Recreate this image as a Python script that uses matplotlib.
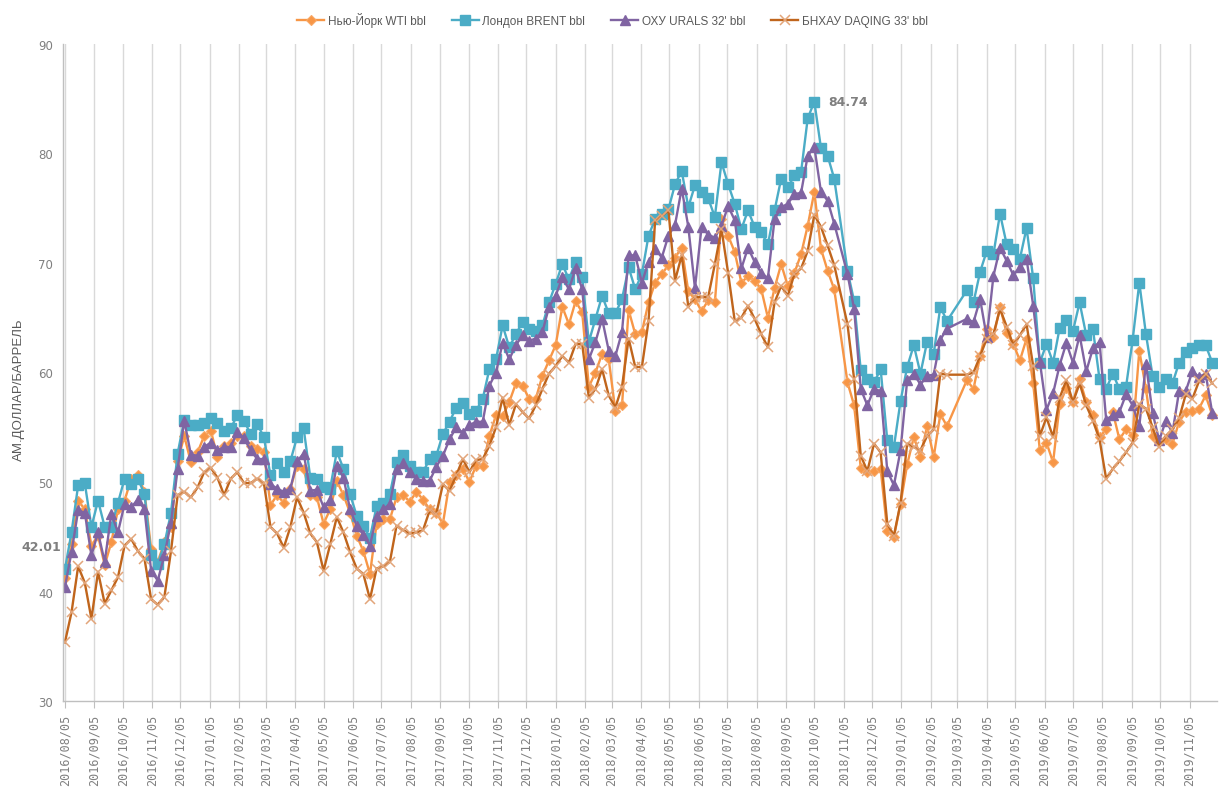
import numpy as np
import pandas as pd
import matplotlib
matplotlib.use('Agg')
import matplotlib.pyplot as plt
import matplotlib.dates as mdates

nan = np.nan
start_date = '2016-08-05'
n_weeks = 174

series_names = ['Нью-Йорк WTI bbl', 'Лондон BRENT bbl', "ОХУ URALS 32' bbl", "БНХАУ DAQING 33' bbl"]
y_label = 'АМ.ДОЛЛАР/БАРРЕЛЬ'

wti = [41.2, 44.3, 48.3, 47.5, 44.2, 45.1, 42.4, 44.5, 47.5, 48.3,
       50.3, 50.6, 49.1, 43.9, 42.7, 44.5, 45.9, 51.9, 54.2, 51.8,
       52.7, 54.2, 54.7, 52.3, 53.3, 53.6, 54.2, 54.2, 53.3, 53.0,
       52.7, 47.9, 48.8, 48.1, 49.4, 51.5, 51.2, 48.8, 48.6, 46.2,
       47.5, 50.1, 48.8, 47.2, 45.1, 43.7, 41.6, 46.2, 46.6, 46.6,
       48.6, 48.8, 48.2, 49.1, 48.4, 47.5, 47.2, 46.2, 50.0, 50.6,
       51.2, 50.0, 51.5, 51.5, 54.2, 56.1, 56.0, 57.3, 59.0, 58.8,
       57.6, 57.6, 59.7, 61.1, 62.5, 66.0, 64.4, 66.5, 65.5, 58.7,
       60.0, 61.7, 61.2, 56.5, 57.0, 65.7, 63.5, 63.7, 66.4, 68.2,
       69.0, 69.8, 70.5, 71.4, 67.4, 66.7, 65.6, 66.6, 66.4, 74.0,
       72.5, 71.0, 68.2, 68.8, 68.4, 67.6, 65.0, 67.7, 69.9, 67.9,
       69.1, 70.8, 73.4, 76.5, 71.3, 69.3, 67.6, nan, 59.1, 57.0,
       51.3, 50.9, 51.0, 51.2, 45.5, 45.0, 48.0, 51.6, 54.1, 52.3,
       55.1, 52.3, 56.2, 55.1, nan, nan, 59.3, 58.5, 61.5, 64.0,
       63.2, 66.0, 63.6, 62.6, 61.1, 63.1, 59.0, 52.9, 53.6, 51.8,
       57.1, 58.6, 57.3, 59.4, 57.3, 56.1, 54.1, 54.8, 56.4, 53.9,
       54.8, 54.3, 62.0, 58.5, 54.2, 53.7, 53.9, 53.5, 55.5, 56.4,
       56.5, 56.7, 57.9, 56.1]

brent = [42.01, 45.4, 49.7, 49.9, 45.9, 48.3, 45.9, 45.9, 48.1, 50.3,
         49.8, 50.3, 48.9, 43.3, 42.5, 44.3, 47.2, 52.6, 55.7, 55.2,
         55.2, 55.4, 55.8, 55.4, 54.7, 54.9, 56.1, 55.6, 54.4, 55.3,
         54.1, 50.6, 51.7, 50.9, 51.9, 54.1, 54.9, 50.4, 50.3, 49.5,
         49.4, 52.8, 51.2, 48.9, 46.9, 46.0, 44.9, 47.8, 48.1, 48.9,
         51.8, 52.5, 51.5, 50.9, 50.9, 52.1, 52.4, 54.4, 55.5, 56.8,
         57.2, 56.2, 56.5, 57.6, 60.3, 61.2, 64.3, 62.3, 63.5, 64.6,
         64.0, 63.8, 64.3, 66.4, 68.1, 69.9, 68.5, 70.1, 68.7, 62.8,
         64.9, 67.0, 65.4, 65.4, 66.7, 69.6, 67.6, 69.0, 72.5, 74.0,
         74.5, 74.9, 77.2, 78.4, 75.1, 77.1, 76.5, 75.9, 74.2, 79.2,
         77.2, 75.4, 73.1, 74.8, 73.3, 72.8, 71.7, 74.8, 77.7, 76.9,
         78.0, 78.3, 83.2, 84.74, 80.5, 79.8, 77.7, nan, 69.3, 66.5,
         60.2, 59.4, 59.1, 60.3, 53.8, 53.2, 57.4, 60.5, 62.5, 59.9,
         62.8, 61.7, 66.0, 64.7, nan, nan, 67.5, 66.4, 69.2, 71.1,
         70.8, 74.5, 71.7, 71.3, 70.4, 73.2, 68.6, 60.9, 62.6, 60.9,
         64.1, 64.8, 63.8, 66.4, 63.4, 64.0, 59.4, 58.5, 59.9, 58.5,
         58.7, 63.0, 68.2, 63.5, 59.7, 58.7, 59.4, 59.0, 60.9, 61.9,
         62.2, 62.5, 62.5, 60.9]

urals = [40.4, 43.6, 47.4, 47.2, 43.3, 45.4, 42.7, 47.1, 45.4, 48.0,
         47.7, 48.4, 47.5, 41.9, 41.0, 43.3, 46.3, 51.2, 55.6, 52.5,
         52.4, 53.2, 53.6, 52.9, 53.2, 53.2, 54.6, 54.0, 52.9, 52.1,
         52.1, 49.8, 49.4, 49.1, 49.4, 51.9, 52.6, 49.2, 49.3, 47.7,
         48.4, 51.5, 50.4, 47.5, 46.0, 45.2, 44.2, 46.9, 47.5, 48.0,
         51.2, 51.7, 50.9, 50.3, 50.1, 50.1, 51.4, 52.4, 53.9, 55.0,
         54.5, 55.2, 55.5, 55.5, 58.8, 60.0, 62.7, 61.2, 62.5, 63.4,
         62.9, 63.1, 63.7, 66.0, 67.0, 68.7, 67.6, 69.5, 67.6, 61.2,
         62.8, 64.9, 62.0, 61.5, 63.7, 70.7, 70.7, 68.2, 70.1, 71.3,
         70.5, 72.5, 73.5, 76.8, 73.3, 67.7, 73.3, 72.6, 72.3, 73.4,
         75.2, 73.9, 69.5, 71.4, 70.1, 69.1, 68.6, 74.0, 75.1, 75.4,
         76.3, 76.4, 79.8, 80.6, 76.5, 75.7, 73.6, nan, 69.0, 65.8,
         58.5, 57.0, 58.5, 58.3, 51.0, 49.7, 52.9, 59.3, 59.9, 58.9,
         59.7, 59.8, 63.0, 64.0, nan, nan, 64.9, 64.6, 66.7, 63.2,
         68.8, 71.4, 70.2, 68.9, 69.6, 70.4, 66.1, 61.0, 56.6, 58.1,
         60.7, 62.7, 60.9, 63.4, 60.1, 62.2, 62.8, 55.7, 56.1, 56.4,
         58.0, 57.0, 55.1, 60.8, 56.3, 53.8, 55.6, 54.5, 58.3, 58.3,
         60.1, 59.6, 59.9, 56.3]

daqing = [35.35, 38.1, 42.3, 40.8, 37.5, 41.8, 38.9, 40.1, 41.3, 44.2,
          44.8, 43.7, 43.0, 39.3, 38.8, 39.5, 43.7, 48.8, 49.1, 48.6,
          49.5, 50.9, 51.3, 50.4, 48.8, 50.3, 50.9, 49.9, 49.9, 50.3,
          49.9, 45.9, 45.3, 44.0, 45.9, 48.6, 47.2, 45.3, 44.5, 41.9,
          44.3, 46.8, 45.4, 43.6, 42.1, 41.6, 39.3, 42.1, 42.3, 42.7,
          46.0, 45.6, 45.3, 45.4, 45.6, 47.4, 47.1, 49.8, 49.2, 50.6,
          52.1, 50.9, 52.0, 52.1, 53.3, 55.0, 57.7, 55.2, 57.1, 56.4,
          55.8, 57.0, 58.5, 59.9, 60.6, 61.5, 60.9, 62.6, 62.6, 57.7,
          58.5, 60.3, 57.9, 56.8, 58.7, 63.1, 60.5, 60.5, 64.7, 73.9,
          74.3, 74.8, 68.4, 70.7, 66.0, 66.9, 66.9, 66.9, 69.9, 73.1,
          69.1, 64.7, 65.0, 66.1, 64.9, 63.5, 62.3, 66.4, 67.9, 67.0,
          69.0, 69.5, 71.1, 74.4, 73.3, 71.6, 69.8, nan, 64.4, 59.4,
          52.4, 51.0, 53.5, 52.7, 46.2, 45.1, 48.1, 53.5, 53.2, 52.9,
          54.2, 54.8, 59.9, 59.8, nan, nan, 59.8, 60.0, 61.5, 63.1,
          63.5, 65.8, 64.2, 62.5, 63.4, 64.4, 60.6, 54.2, 55.9, 54.1,
          57.7, 59.3, 57.3, 59.0, 57.0, 55.6, 53.9, 50.3, 51.2, 51.9,
          52.7, 53.6, 57.1, 56.7, 55.0, 53.2, 54.2, 54.8, 55.8, 58.0,
          57.6, 59.2, 59.9, 59.0]

dates = pd.date_range(start_date, periods=n_weeks, freq='7D')

W, H = 1225, 803
fig = plt.figure(figsize=(W / 100, H / 100), dpi=100)
ax = fig.add_axes([63 / W, 1 - 702 / H, 1154 / W, 657 / H])

styles = [
    dict(color='#F79646', marker='D', markersize=5, markerfacecolor='#F79646',
         markeredgecolor='#F9A865', markeredgewidth=0.8),
    dict(color='#4BACC6', marker='s', markersize=6.5, markerfacecolor='#4BACC6',
         markeredgecolor='#4BACC6'),
    dict(color='#8064A2', marker='^', markersize=7.5, markerfacecolor='#8064A2',
         markeredgecolor='#8064A2'),
    dict(color='#C0651C', marker='x', markersize=6.5, markeredgecolor='#E2A57A',
         markeredgewidth=1.1),
]

for vals, name, st in zip([wti, brent, urals, daqing], series_names, styles):
    v = np.array(vals, dtype=float)
    m = ~np.isnan(v)
    ax.plot(dates[m], v[m], lw=1.7, label=name, **st)

ax.set_ylim(30, 90)
ax.set_yticks(np.arange(30, 91, 10))
ax.set_xlim(pd.Timestamp('2016-08-03'), pd.Timestamp('2019-12-04'))

ax.xaxis.set_major_locator(mdates.MonthLocator(bymonthday=5))
ax.xaxis.set_major_formatter(mdates.DateFormatter('%Y/%m/%d'))
ax.xaxis.grid(True, color='#d9d9d9', lw=1)
ax.yaxis.grid(False)
ax.set_axisbelow(True)

for s in ['top', 'right']:
    ax.spines[s].set_visible(False)
for s in ['left', 'bottom']:
    ax.spines[s].set_color('#bfbfbf')
    ax.spines[s].set_linewidth(1)

ax.tick_params(axis='x', direction='out', length=5, color='#bfbfbf',
               labelsize=8.5, labelcolor='#7f7f7f', pad=4)
for lab in ax.get_xticklabels():
    lab.set_rotation(90)
    lab.set_family('DejaVu Sans Mono')
ax.tick_params(axis='y', length=0, pad=7, labelsize=8.5, labelcolor='#7f7f7f')

ax.set_ylabel(y_label, fontsize=9.5, color='#595959',
              family=['Liberation Sans Narrow', 'Liberation Sans', 'DejaVu Sans'])
ax.yaxis.set_label_coords(-0.033, 0.475)

imax = int(np.nanargmax(np.array(brent, dtype=float)))
ax.annotate(f'{brent[imax]:.2f}', (dates[imax], brent[imax]), xytext=(14, 0),
            textcoords='offset pixels', ha='left', va='center', fontsize=9,
            fontweight='bold', color='#7f7f7f')
ax.annotate(f'{brent[0]:.2f}', (dates[0], brent[0]), xytext=(-24, 23),
            textcoords='offset pixels', ha='center', va='center', fontsize=9,
            fontweight='bold', color='#7f7f7f', annotation_clip=False)

fig.legend(loc='upper center', bbox_to_anchor=(0.5, 0.997), ncol=4, frameon=False,
           prop={'family': ['Liberation Sans', 'DejaVu Sans'], 'size': 8.5},
           handlelength=2.3, columnspacing=2.2, handletextpad=0.3,
           labelcolor='#595959')

fig.savefig('out.png', dpi=100)
